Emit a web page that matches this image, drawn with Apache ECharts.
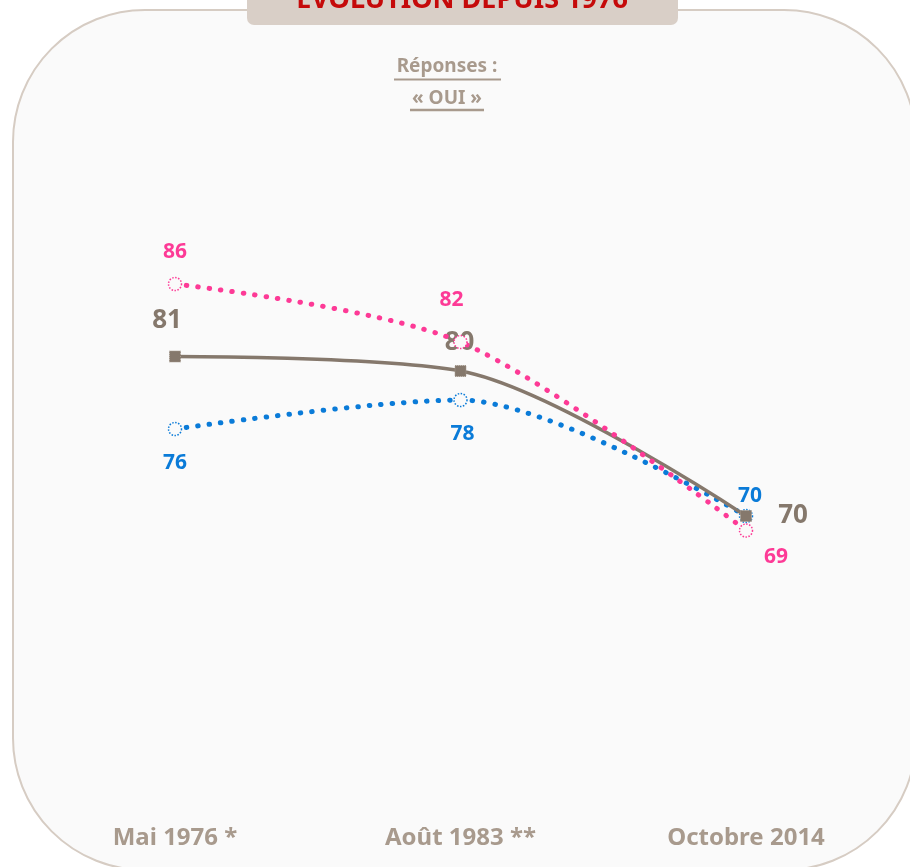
<!DOCTYPE html>
<html>
<head>
<meta charset="utf-8">
<script src="https://cdn.jsdelivr.net/npm/echarts@6/dist/echarts.min.js"></script>
<style>
  html, body { margin: 0; padding: 0; background: #ffffff; }
  #chart { width: 910px; height: 867px; }
</style>
</head>
<body>
<div id="chart"></div>
<script>
// données
const categories = ['Mai 1976 *', 'Août 1983 **', 'Octobre 2014'];
const ensemble = [81, 80, 70];
const hommes = [76, 78, 70];   // bleu
const femmes = [86, 82, 69];   // rose

const GREY = '#85786c';
const BLUE = '#0a7bd8';
const PINK = '#fd3a96';
const TAN = '#a89a8d';
const FONT = '"Noto Sans", "Open Sans", sans-serif';

// décalages des étiquettes (par point)
const greyOffsets = [[-8, -36], [-1, -28], [47, 0]];
const blueOffsets = [[0, 34], [2, 34], [4, -20]];
const pinkOffsets = [[0, -32], [-9, -42], [30, 27]];

function withLabels(values, offsets) {
  return values.map((v, i) => ({
    value: v,
    label: { offset: offsets[i] }
  }));
}

const chart = echarts.init(document.getElementById('chart'));

const ops = {
  animation: false,
  backgroundColor: '#ffffff',
  graphic: [
    {
      type: 'rect',
      z: 0,
      shape: { x: 13, y: 10, width: 903, height: 860, r: 132 },
      style: { fill: '#fafafa', stroke: '#d6ccc3', lineWidth: 2 }
    },
    {
      type: 'rect',
      z: 1,
      shape: { x: 247, y: -12, width: 431, height: 37, r: 7 },
      style: { fill: '#d9cfc7' }
    },
    {
      type: 'text',
      z: 2,
      x: 462,
      y: 14,
      style: {
        text: 'ÉVOLUTION DEPUIS 1976',
        fill: '#c50a0a',
        font: 'bold 27px ' + FONT,
        textAlign: 'center',
        textVerticalAlign: 'bottom'
      }
    },
    {
      type: 'text',
      z: 2,
      x: 447,
      y: 67,
      style: {
        text: 'Réponses :',
        fill: TAN,
        font: 'bold 19px ' + FONT,
        textAlign: 'center',
        textVerticalAlign: 'middle'
      }
    },
    {
      type: 'line',
      z: 2,
      shape: { x1: 394, y1: 79.5, x2: 501, y2: 79.5 },
      style: { stroke: TAN, lineWidth: 2 }
    },
    {
      type: 'text',
      z: 2,
      x: 447,
      y: 99,
      style: {
        text: '« OUI »',
        fill: TAN,
        font: 'bold 19px ' + FONT,
        textAlign: 'center',
        textVerticalAlign: 'middle'
      }
    },
    {
      type: 'line',
      z: 2,
      shape: { x1: 410, y1: 110, x2: 484, y2: 110 },
      style: { stroke: TAN, lineWidth: 2.5 }
    }
  ],
  grid: { left: 175, right: 164, top: 81, bottom: 61 },
  xAxis: {
    type: 'category',
    data: categories,
    boundaryGap: false,
    axisLine: { show: false },
    axisTick: { show: false },
    splitLine: { show: false },
    axisLabel: {
      margin: 20,
      color: TAN,
      fontSize: 24,
      fontWeight: 'bold',
      fontFamily: FONT
    }
  },
  yAxis: {
    type: 'value',
    min: 50,
    max: 100,
    show: false,
    splitLine: { show: false }
  },
  series: [
    {
      name: 'Hommes',
      type: 'line',
      z: 3,
      smooth: 0.3,
      data: withLabels(hommes, blueOffsets),
      symbol: 'circle',
      symbolSize: 13,
      itemStyle: { color: '#fafafa', borderColor: BLUE, borderWidth: 1.5, borderType: 'dotted' },
      lineStyle: { color: BLUE, width: 5, type: [0.5, 11], cap: 'round' },
      label: {
        show: true,
        position: 'inside',
        color: BLUE,
        fontSize: 21,
        fontWeight: 'bold',
        fontFamily: FONT
      }
    },
    {
      name: 'Ensemble',
      type: 'line',
      z: 4,
      smooth: 0.3,
      data: withLabels(ensemble, greyOffsets),
      symbol: 'rect',
      symbolSize: 11,
      itemStyle: { color: GREY, borderColor: '#a2968a', borderWidth: 1, borderType: 'dotted' },
      lineStyle: { color: GREY, width: 3.5 },
      label: {
        show: true,
        position: 'inside',
        color: GREY,
        fontSize: 26,
        fontWeight: 'bold',
        fontFamily: FONT
      }
    },
    {
      name: 'Femmes',
      type: 'line',
      z: 5,
      smooth: 0.3,
      data: withLabels(femmes, pinkOffsets),
      symbol: 'circle',
      symbolSize: 13,
      itemStyle: { color: '#fafafa', borderColor: PINK, borderWidth: 1.5, borderType: 'dotted' },
      lineStyle: { color: PINK, width: 5, type: [0.5, 11], cap: 'round' },
      label: {
        show: true,
        position: 'inside',
        color: PINK,
        fontSize: 21,
        fontWeight: 'bold',
        fontFamily: FONT
      }
    }
  ]
};

chart.setOption(ops);
</script>
</body>
</html>
